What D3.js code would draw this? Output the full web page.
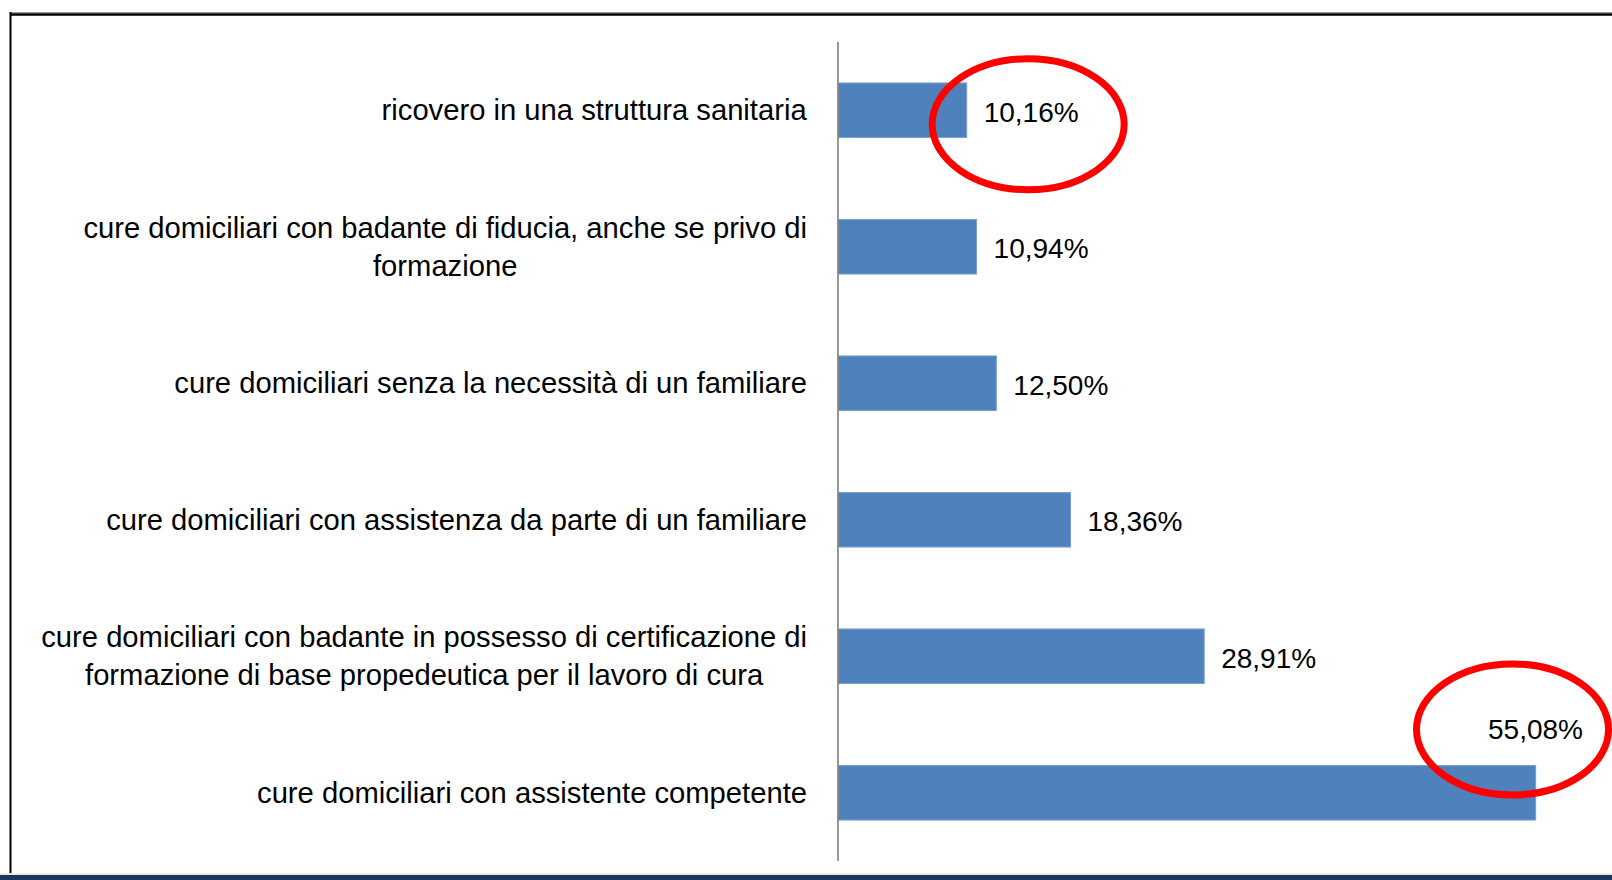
<!DOCTYPE html>
<html>
<head>
<meta charset="utf-8">
<script src="https://cdn.jsdelivr.net/npm/d3@7"></script>
<style>
  body { margin: 0; background: #fff; }
  svg { display: block; }
  text { font-family: 'Liberation Sans', Arial, sans-serif; fill: #000; }
</style>
</head>
<body>
<svg id="render"></svg>
<script>
// categories top to bottom, "\n" marks a line break in the label
const categories = [
    "ricovero in una struttura sanitaria",
    "cure domiciliari con badante di fiducia, anche se privo di\nformazione",
    "cure domiciliari senza la necessità di un familiare",
    "cure domiciliari con assistenza da parte di un familiare",
    "cure domiciliari con badante in possesso di certificazione di\nformazione di base propedeutica per il lavoro di cura",
    "cure domiciliari con assistente competente"
];
const values = [10.16, 10.94, 12.50, 18.36, 28.91, 55.08];
const valueLabels = ["10,16%", "10,94%", "12,50%", "18,36%", "28,91%", "55,08%"];

const W = 1612, H = 880;
const svg = d3.select("svg#render")
    .attr("width", W)
    .attr("height", H);

svg.append("rect")
    .attr("width", W)
    .attr("height", H)
    .attr("fill", "#fff");

// slide frame
svg.append("line")
    .attr("x1", 10).attr("x2", W)
    .attr("y1", 12.5).attr("y2", 12.5)
    .attr("stroke", "#999").attr("stroke-width", 1);
svg.append("line")
    .attr("x1", 10).attr("x2", W)
    .attr("y1", 14.5).attr("y2", 14.5)
    .attr("stroke", "#000").attr("stroke-width", 2.5);
svg.append("line")
    .attr("x1", 10.5).attr("x2", 10.5)
    .attr("y1", 12).attr("y2", 874)
    .attr("stroke", "#000").attr("stroke-width", 2);
svg.append("rect")
    .attr("x", 0).attr("y", 873)
    .attr("width", W).attr("height", 2)
    .attr("fill", "#eeece1");
svg.append("rect")
    .attr("x", 0).attr("y", 875)
    .attr("width", W).attr("height", 5)
    .attr("fill", "#1b385c");

const x = d3.scaleLinear()
    .domain([0, 60])
    .range([838, 1598]);

const y = d3.scaleBand()
    .domain(d3.range(categories.length))
    .range([42, 861])
    .paddingInner(0.6)
    .paddingOuter(0.3);

const g = svg.append("g");

g.selectAll("rect.bar")
    .data(values)
    .enter()
    .append("rect")
    .attr("class", "bar")
    .attr("x", x(0))
    .attr("y", (d, i) => y(i))
    .attr("width", d => x(d) - x(0))
    .attr("height", y.bandwidth())
    .attr("fill", "#4f81bd")
    .attr("stroke", "#7a9fd0")
    .attr("stroke-width", 1);

// vertical category axis, no ticks
g.append("line")
    .attr("x1", x(0)).attr("x2", x(0))
    .attr("y1", 42).attr("y2", 861)
    .attr("stroke", "#868686")
    .attr("stroke-width", 1.7);

// category labels, block right-aligned, lines centred
const lineH = 38;
const labelBlocks = g.selectAll("g.label")
    .data(categories)
    .enter()
    .append("g")
    .attr("class", "label");

labelBlocks.each(function(d, i) {
    const lines = d.split("\n");
    const t = d3.select(this).append("text")
        .attr("font-size", 29.2)
        .attr("text-anchor", "middle")
        .attr("dominant-baseline", "central");
    const cy = y(i) + y.bandwidth() / 2 - (lines.length - 1) * lineH / 2;
    lines.forEach((ln, k) => {
        t.append("tspan")
            .attr("x", 0)
            .attr("y", cy + k * lineH)
            .text(ln);
    });
    const bb = t.node().getBBox();
    t.attr("transform", `translate(${807 - bb.width / 2}, 0)`);
});

// value labels
const valTexts = g.selectAll("text.value")
    .data(values)
    .enter()
    .append("text")
    .attr("class", "value")
    .attr("font-size", 28)
    .attr("dominant-baseline", "central")
    .text((d, i) => valueLabels[i]);

valTexts.each(function(d, i) {
    const t = d3.select(this);
    t.attr("x", x(d) + 17).attr("y", y(i) + y.bandwidth() / 2 + 2);
    const w = this.getComputedTextLength();
    if (x(d) + 17 + w > W - 10) {
        // no room: Excel moves it above the bar
        t.attr("text-anchor", "end")
            .attr("x", W - 29)
            .attr("y", y(i) - 36);
    }
});

// red hand-drawn circles around some values
const circled = [
    {i: 0, dx: -3, dy: 12},
    {i: 5, dx: -23, dy: 0}
];
circled.forEach(c => {
    const bb = valTexts.nodes()[c.i].getBBox();
    g.append("ellipse")
        .attr("cx", bb.x + bb.width / 2 + c.dx)
        .attr("cy", bb.y + bb.height / 2 + c.dy)
        .attr("rx", 96)
        .attr("ry", 65.5)
        .attr("fill", "none")
        .attr("stroke", "#ff0000")
        .attr("stroke-width", 7);
});
</script>
</body>
</html>
